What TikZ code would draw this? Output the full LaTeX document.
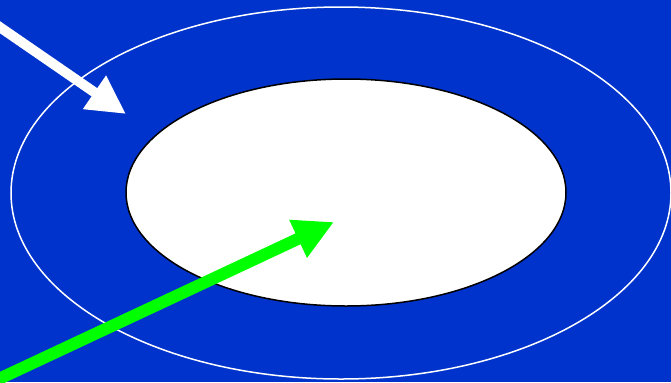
\documentclass[tikz,border=0pt]{standalone}
\usepackage{tikz}
\usetikzlibrary{arrows.meta, calc, positioning}

\definecolor{bgblue}{HTML}{0033CC}
\definecolor{brightgreen}{HTML}{00FF00}

\begin{document}
\begin{tikzpicture}[x=0.03cm, y=-0.03cm, line width=1pt]
        % Background
        \fill[bgblue] (0,0) rectangle (671,382);
        \useasboundingbox (0,0) rectangle (671,382);
        \clip (0,0) rectangle (671,382);

        % Outer ring
        \draw[white, line width=0.045cm] (341,193) ellipse [x radius=330, y radius=186];

        % Inner disc
        \draw[fill=white, draw=black, line width=0.045cm] (346,192.5) ellipse [x radius=220, y radius=113.5];

        % White arrow
        \coordinate (wstart) at (-12,19);
        \coordinate (wtip) at (126,114);
        \draw[white, line width=0.3cm, -{Triangle[length=1.15cm, width=1.14cm]}] (wstart) -- (wtip);

        % Green arrow
        \coordinate (gstart) at (-12,384);
        \coordinate (gtip) at (334,222);
        \draw[brightgreen, line width=0.36cm, -{Triangle[length=1.19cm, width=1.17cm]}] (gstart) -- (gtip);

    \end{tikzpicture}
\end{document}
